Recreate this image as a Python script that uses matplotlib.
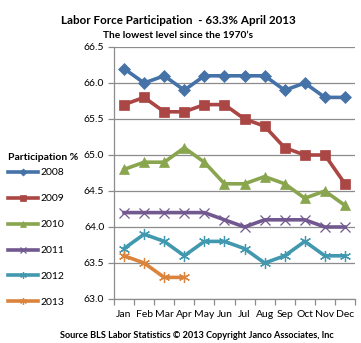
import numpy as np
import matplotlib
matplotlib.use("Agg")
import matplotlib.pyplot as plt

plt.rcParams['font.family'] = ['Lato', 'DejaVu Sans']

months = ['Jan', 'Feb', 'Mar', 'Apr', 'May', 'Jun', 'Jul', 'Aug', 'Sep', 'Oct', 'Nov', 'Dec']
years = ['2008', '2009', '2010', '2011', '2012', '2013']

p2008 = [66.2, 66.0, 66.1, 65.9, 66.1, 66.1, 66.1, 66.1, 65.9, 66.0, 65.8, 65.8]
p2009 = [65.7, 65.8, 65.6, 65.6, 65.7, 65.7, 65.5, 65.4, 65.1, 65.0, 65.0, 64.6]
p2010 = [64.8, 64.9, 64.9, 65.1, 64.9, 64.6, 64.6, 64.7, 64.6, 64.4, 64.5, 64.3]
p2011 = [64.2, 64.2, 64.2, 64.2, 64.2, 64.1, 64.0, 64.1, 64.1, 64.1, 64.0, 64.0]
p2012 = [63.7, 63.9, 63.8, 63.6, 63.8, 63.8, 63.7, 63.5, 63.6, 63.8, 63.6, 63.6]
p2013 = [63.6, 63.5, 63.3, 63.3]

series = [p2008, p2009, p2010, p2011, p2012, p2013]
colors = ['#4572A7', '#AA4643', '#89A54E', '#71588F', '#4198AF', '#DB843D']
markers = ['D', 's', '^', 'x', (6, 2, 0), (6, 2, 0)]
msizes = [6, 6.5, 7, 6.5, 8, 8]

fig = plt.figure(figsize=(3.61, 3.43), dpi=100)
ax = fig.add_axes([114 / 361, 44 / 343, 241 / 361, 252 / 343])

x = np.arange(len(months))
for vals, c, m, ms, lab in zip(series, colors, markers, msizes, years):
    xs = x[:len(vals)]
    filled = m in ('D', 's', '^')
    ax.plot(xs, vals, color=c, lw=2.6, marker=m, ms=ms,
            mfc=c, mec=c, mew=0.9 if not filled else 0.5, label=lab)

ax.set_xlim(-0.5, 11.5)
ax.set_ylim(63.0, 66.5)
ax.set_yticks(np.arange(63.0, 66.51, 0.5))
ax.set_yticklabels([f'{v:.1f}' for v in np.arange(63.0, 66.51, 0.5)], fontsize=7.5)
ax.yaxis.grid(True, color='#8c8c8c', lw=0.9)
ax.set_axisbelow(True)

ax.set_xticks(x)
ax.set_xticklabels(months, fontsize=7.5)
ax.tick_params(axis='x', length=0, pad=8)
ax.set_xticks(np.arange(-0.5, 12, 1), minor=True)
ax.tick_params(axis='x', which='minor', length=4, color='#8c8c8c', width=0.9)
ax.tick_params(axis='y', length=4, color='#8c8c8c', width=0.9, pad=3)

for s in ['top', 'right']:
    ax.spines[s].set_visible(False)
for s in ['left', 'bottom']:
    ax.spines[s].set_color('#8c8c8c')
    ax.spines[s].set_linewidth(0.9)

# legend block on the left, title drawn separately
fig.text(8 / 361, 1 - 157 / 343, 'Participation %', ha='left', va='center',
         fontsize=7.5, fontweight='bold')
leg = ax.legend(loc='upper left', bbox_to_anchor=(8 / 361, 1 - 168 / 343),
                bbox_transform=fig.transFigure, frameon=False, fontsize=7.5,
                handlelength=2.9, handletextpad=0.2, labelspacing=1.6, markerscale=0.6,
                borderaxespad=0, borderpad=0)

fig.text(0.493, 1 - 20 / 343, 'Labor Force Participation  - 63.3% April 2013',
         ha='center', va='center', fontsize=8.4, fontweight='bold')
fig.text(0.493, 1 - 35 / 343, 'The lowest level since the 1970\u2019s',
         ha='center', va='center', fontsize=7.3, fontweight='bold')
fig.text(0.545, 1 - 335 / 343, 'Source BLS Labor Statistics \u00a9 2013 Copyright Janco Associates, Inc',
         ha='center', va='center', fontsize=6.6, fontweight='bold')

fig.savefig('out.png', dpi=100)
